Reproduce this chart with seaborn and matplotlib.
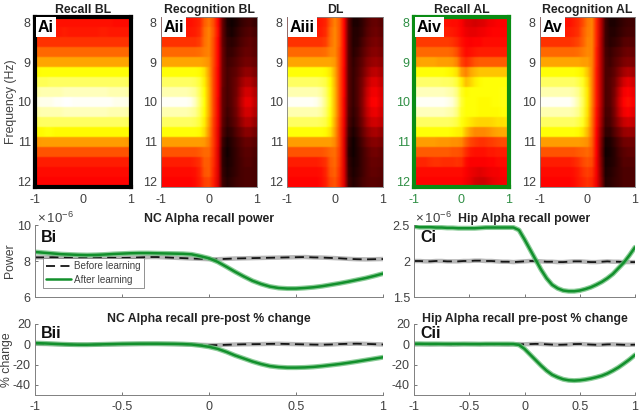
import numpy as np
from matplotlib import pyplot as plt
import seaborn as sns

sns.set_theme(style='white')
plt.rcParams['font.family'] = ['Liberation Sans', 'DejaVu Sans']
plt.rcParams['mathtext.fontset'] = 'custom'
plt.rcParams['mathtext.rm'] = 'Liberation Sans'

# heatmap values, hot scale 0-100, rows 8 to 12 Hz in 0.25 steps, 21 time columns
recall_bl = [
    [38, 38, 38, 39, 39, 39, 39, 39, 39, 39, 39, 39, 39, 39, 39, 39, 39, 38, 38, 38, 38],
    [40, 40, 40, 41, 40, 40, 41, 40, 40, 40, 40, 40, 40, 40, 41, 41, 40, 40, 40, 40, 40],
    [44, 44, 44, 44, 44, 44, 44, 44, 44, 44, 44, 44, 44, 44, 44, 44, 44, 44, 44, 44, 44],
    [52, 52, 52, 52, 52, 52, 52, 52, 52, 52, 52, 52, 52, 52, 52, 52, 52, 52, 52, 52, 52],
    [61, 61, 61, 61, 61, 61, 61, 61, 61, 61, 61, 61, 61, 61, 61, 61, 61, 61, 61, 61, 61],
    [74, 75, 75, 75, 75, 75, 75, 75, 75, 75, 75, 75, 75, 75, 75, 75, 75, 75, 75, 75, 75],
    [83, 83, 83, 84, 84, 84, 84, 84, 84, 84, 84, 84, 84, 84, 84, 84, 84, 84, 84, 84, 83],
    [91, 92, 92, 92, 92, 92, 93, 93, 93, 93, 93, 93, 93, 93, 93, 93, 92, 92, 92, 92, 91],
    [97, 98, 98, 98, 99, 99, 100, 100, 99, 99, 99, 99, 99, 99, 99, 99, 99, 98, 98, 98, 97],
    [91, 92, 92, 92, 92, 92, 93, 93, 93, 93, 93, 93, 93, 93, 93, 93, 92, 92, 92, 92, 91],
    [83, 84, 84, 84, 84, 84, 84, 84, 84, 84, 84, 84, 84, 84, 84, 84, 84, 84, 84, 84, 83],
    [74, 74, 75, 75, 74, 74, 74, 74, 74, 74, 74, 74, 74, 74, 74, 74, 74, 74, 74, 74, 74],
    [59, 60, 60, 60, 60, 60, 60, 60, 60, 60, 60, 60, 60, 60, 60, 60, 60, 60, 60, 60, 59],
    [49, 49, 49, 49, 49, 49, 49, 49, 49, 49, 49, 49, 49, 49, 49, 49, 49, 49, 49, 49, 49],
    [41, 41, 41, 41, 41, 41, 41, 41, 41, 41, 41, 41, 41, 41, 41, 41, 41, 41, 41, 41, 41],
    [38, 38, 38, 38, 38, 38, 38, 38, 38, 38, 38, 38, 38, 38, 38, 38, 38, 38, 38, 38, 38],
    [37, 37, 37, 37, 37, 37, 37, 37, 37, 37, 37, 37, 37, 37, 37, 37, 37, 37, 37, 37, 37],
]
recognition_bl = [
    [38, 38, 38, 38, 38, 39, 39, 40, 42, 50, 54, 48, 37, 14, 3, 1, 3, 6, 8, 9, 7],
    [40, 40, 40, 40, 40, 40, 40, 41, 43, 52, 56, 49, 38, 14, 4, 2, 5, 8, 10, 11, 9],
    [44, 44, 44, 44, 44, 44, 44, 44, 46, 53, 56, 48, 37, 14, 6, 5, 7, 10, 12, 13, 11],
    [52, 52, 52, 52, 52, 52, 52, 52, 53, 55, 56, 48, 37, 15, 7, 7, 9, 12, 14, 14, 12],
    [61, 61, 61, 61, 61, 61, 61, 61, 61, 60, 58, 48, 37, 15, 8, 9, 11, 14, 16, 16, 14],
    [75, 75, 75, 75, 75, 75, 75, 75, 74, 70, 60, 47, 36, 15, 9, 11, 13, 17, 20, 20, 17],
    [84, 84, 84, 84, 84, 84, 84, 83, 80, 72, 61, 47, 36, 15, 9, 12, 15, 21, 25, 25, 21],
    [92, 92, 92, 92, 92, 92, 91, 89, 83, 74, 62, 47, 36, 14, 9, 12, 16, 24, 30, 30, 25],
    [99, 99, 99, 99, 99, 99, 98, 93, 85, 75, 62, 47, 35, 14, 9, 12, 17, 26, 33, 33, 27],
    [92, 92, 92, 92, 92, 92, 91, 89, 83, 74, 62, 47, 35, 14, 8, 11, 16, 24, 30, 30, 25],
    [84, 84, 84, 84, 84, 84, 84, 83, 80, 72, 60, 46, 34, 13, 7, 10, 14, 20, 25, 25, 21],
    [75, 75, 75, 75, 75, 75, 75, 75, 74, 69, 58, 45, 33, 11, 5, 7, 11, 15, 19, 19, 16],
    [60, 60, 60, 60, 60, 60, 60, 60, 60, 59, 55, 45, 33, 8, 2, 5, 8, 11, 14, 14, 12],
    [49, 49, 49, 49, 49, 49, 49, 49, 50, 52, 52, 44, 32, 6, 1, 4, 7, 10, 12, 12, 10],
    [41, 41, 41, 41, 41, 41, 41, 42, 44, 50, 50, 43, 32, 6, 2, 4, 7, 9, 11, 11, 9],
    [38, 38, 38, 38, 38, 38, 38, 39, 42, 49, 50, 42, 32, 7, 3, 5, 7, 9, 10, 10, 9],
    [37, 37, 37, 37, 37, 37, 37, 38, 41, 46, 47, 41, 31, 8, 4, 6, 8, 9, 10, 10, 9],
]
dl = [
    [38, 38, 38, 38, 38, 39, 39, 40, 42, 50, 56, 50, 37, 12, 3, 3, 6, 10, 13, 14, 12],
    [40, 40, 40, 40, 40, 40, 40, 41, 43, 52, 57, 50, 37, 12, 4, 4, 7, 11, 14, 15, 13],
    [44, 44, 44, 44, 44, 44, 44, 44, 46, 53, 57, 50, 37, 12, 4, 5, 9, 13, 16, 17, 15],
    [52, 52, 52, 52, 52, 52, 52, 52, 53, 56, 57, 49, 37, 12, 5, 7, 11, 15, 18, 19, 17],
    [61, 61, 61, 61, 61, 61, 61, 61, 61, 61, 59, 49, 37, 12, 6, 9, 13, 18, 21, 22, 20],
    [75, 75, 75, 75, 75, 75, 75, 75, 74, 71, 62, 49, 36, 12, 7, 10, 15, 21, 26, 27, 24],
    [84, 84, 84, 84, 84, 84, 84, 83, 81, 74, 63, 49, 36, 12, 7, 11, 17, 25, 31, 32, 28],
    [92, 92, 92, 92, 92, 92, 92, 90, 85, 76, 64, 49, 36, 12, 7, 11, 18, 28, 34, 35, 31],
    [99, 99, 99, 99, 99, 99, 98, 94, 87, 77, 64, 49, 35, 12, 7, 11, 19, 29, 36, 37, 32],
    [92, 92, 92, 92, 92, 92, 92, 90, 85, 76, 64, 49, 35, 11, 6, 10, 18, 27, 33, 34, 30],
    [84, 84, 84, 84, 84, 84, 84, 83, 81, 74, 62, 48, 34, 10, 5, 9, 16, 24, 29, 30, 27],
    [75, 75, 75, 75, 75, 75, 75, 75, 74, 70, 60, 47, 33, 8, 3, 7, 13, 19, 23, 24, 21],
    [60, 60, 60, 60, 60, 60, 60, 60, 60, 60, 57, 47, 32, 6, 1, 5, 10, 15, 18, 19, 17],
    [49, 49, 49, 49, 49, 49, 49, 49, 50, 52, 53, 46, 32, 5, 1, 4, 8, 12, 15, 16, 14],
    [41, 41, 41, 41, 41, 41, 41, 42, 44, 50, 52, 45, 32, 6, 2, 4, 8, 11, 14, 14, 13],
    [38, 38, 38, 38, 38, 38, 38, 39, 42, 49, 51, 44, 32, 7, 3, 5, 8, 11, 13, 13, 12],
    [37, 37, 37, 37, 37, 37, 37, 38, 41, 47, 49, 43, 32, 8, 4, 6, 9, 11, 12, 12, 11],
]
recall_al = [
    [38, 38, 38, 39, 40, 40, 39, 39, 38, 38, 36, 32, 31, 30, 31, 32, 34, 35, 36, 36, 36],
    [40, 40, 40, 41, 42, 42, 41, 41, 40, 39, 37, 34, 33, 33, 34, 35, 36, 37, 37, 37, 37],
    [45, 45, 45, 45, 45, 45, 45, 45, 44, 42, 39, 37, 36, 37, 37, 38, 38, 38, 38, 38, 38],
    [52, 52, 52, 52, 52, 52, 52, 52, 51, 48, 42, 38, 39, 40, 41, 41, 41, 41, 41, 41, 41],
    [60, 61, 61, 61, 61, 60, 60, 60, 59, 56, 47, 43, 46, 49, 50, 50, 50, 50, 50, 50, 50],
    [75, 75, 75, 75, 75, 75, 75, 74, 73, 70, 60, 56, 61, 64, 66, 66, 66, 66, 66, 66, 66],
    [85, 85, 85, 85, 85, 85, 84, 84, 83, 80, 72, 65, 68, 72, 74, 75, 75, 75, 75, 75, 75],
    [93, 93, 93, 93, 93, 93, 93, 92, 91, 87, 78, 74, 75, 75, 75, 75, 75, 75, 75, 76, 76],
    [99, 99, 99, 99, 99, 99, 99, 98, 96, 90, 80, 75, 75, 75, 74, 74, 74, 75, 75, 76, 76],
    [93, 93, 93, 93, 93, 93, 93, 92, 91, 87, 78, 75, 75, 75, 74, 74, 74, 74, 74, 75, 75],
    [84, 84, 84, 84, 84, 84, 84, 84, 83, 81, 76, 73, 71, 69, 68, 68, 68, 69, 70, 70, 71],
    [75, 75, 75, 75, 75, 75, 75, 75, 74, 73, 72, 65, 60, 57, 57, 57, 58, 60, 61, 62, 62],
    [60, 60, 60, 60, 60, 59, 59, 59, 58, 58, 57, 51, 47, 45, 44, 44, 45, 46, 47, 48, 48],
    [50, 50, 50, 50, 50, 50, 50, 50, 49, 49, 48, 43, 40, 39, 39, 39, 40, 40, 41, 41, 41],
    [42, 42, 42, 43, 44, 44, 43, 43, 43, 44, 43, 38, 36, 36, 36, 36, 37, 37, 38, 38, 38],
    [38, 38, 38, 38, 38, 38, 38, 38, 38, 38, 38, 36, 34, 33, 32, 33, 34, 35, 35, 36, 36],
    [37, 37, 37, 37, 37, 37, 37, 37, 37, 37, 37, 35, 33, 30, 29, 29, 31, 33, 34, 35, 35],
]
recognition_al = [
    [38, 38, 38, 38, 38, 39, 39, 41, 43, 48, 54, 56, 42, 26, 8, 3, 3, 5, 7, 8, 8],
    [40, 40, 40, 40, 40, 40, 41, 42, 44, 50, 55, 56, 42, 26, 8, 4, 4, 6, 8, 9, 9],
    [44, 44, 44, 44, 44, 44, 44, 45, 47, 51, 56, 56, 42, 25, 8, 5, 6, 8, 11, 12, 11],
    [52, 52, 52, 52, 52, 52, 52, 52, 53, 55, 57, 56, 41, 25, 9, 7, 9, 11, 14, 15, 14],
    [61, 61, 61, 61, 61, 61, 61, 61, 61, 60, 60, 56, 41, 25, 10, 8, 11, 14, 17, 18, 17],
    [75, 75, 75, 75, 75, 75, 75, 75, 74, 72, 66, 56, 40, 25, 10, 10, 13, 18, 23, 25, 23],
    [84, 84, 84, 84, 84, 84, 84, 84, 82, 78, 69, 56, 40, 25, 10, 11, 15, 23, 30, 33, 30],
    [92, 92, 92, 92, 92, 92, 92, 91, 88, 81, 71, 56, 40, 25, 10, 11, 17, 27, 35, 37, 34],
    [99, 99, 99, 99, 99, 99, 99, 96, 91, 83, 71, 56, 40, 25, 10, 11, 18, 29, 37, 39, 36],
    [92, 92, 92, 92, 92, 92, 92, 91, 88, 81, 70, 55, 39, 24, 9, 10, 17, 27, 34, 36, 33],
    [84, 84, 84, 84, 84, 84, 84, 84, 82, 78, 68, 54, 38, 23, 8, 9, 15, 22, 28, 30, 28],
    [75, 75, 75, 75, 75, 75, 75, 75, 74, 71, 64, 53, 37, 20, 6, 6, 11, 16, 21, 22, 21],
    [60, 60, 60, 60, 60, 60, 60, 60, 60, 59, 58, 51, 36, 18, 2, 3, 7, 11, 15, 16, 15],
    [49, 49, 49, 49, 49, 49, 49, 49, 50, 51, 52, 49, 36, 17, 1, 2, 5, 9, 12, 13, 13],
    [41, 41, 41, 41, 41, 41, 41, 42, 44, 47, 49, 47, 35, 18, 2, 3, 5, 8, 11, 11, 11],
    [38, 38, 38, 38, 38, 38, 38, 39, 41, 44, 46, 44, 35, 19, 3, 4, 6, 8, 10, 10, 10],
    [37, 37, 37, 37, 37, 37, 37, 38, 40, 42, 44, 42, 34, 20, 4, 5, 7, 8, 10, 10, 10],
]

heat_titles = ['Recall BL', 'Recognition BL', 'DL', 'Recall AL', 'Recognition AL']
heat_tags = ['Ai', 'Aii', 'Aiii', 'Aiv', 'Av']
heat_data = [recall_bl, recognition_bl, dl, recall_al, recognition_al]
freq_labels = ['8', '9', '10', '11', '12']
time_labels = ['-1', '0', '1']

# line values
t = np.arange(-1, 1.001, 0.05)
nc_power_before = [8.2, 8.2, 8.21, 8.2, 8.18, 8.17, 8.18, 8.2, 8.2, 8.18, 8.17, 8.18, 8.2, 8.22, 8.22, 8.2, 8.18, 8.16, 8.14, 8.12, 8.1,
                   8.1, 8.12, 8.14, 8.15, 8.16, 8.17, 8.18, 8.19, 8.2, 8.21, 8.22, 8.2, 8.19, 8.17, 8.15, 8.12, 8.1, 8.09, 8.1, 8.11]
nc_power_after = [8.5, 8.46, 8.42, 8.38, 8.36, 8.34, 8.33, 8.34, 8.36, 8.39, 8.41, 8.43, 8.44, 8.44, 8.43, 8.42, 8.41, 8.4, 8.37, 8.27, 8.15,
                  7.95, 7.68, 7.4, 7.14, 6.9, 6.72, 6.58, 6.5, 6.47, 6.47, 6.5, 6.54, 6.6, 6.68, 6.76, 6.85, 6.95, 7.05, 7.17, 7.3]
nc_change_before = [0.5, 0.3, 0.2, 0, -0.3, -0.4, -0.5, -0.3, -0.1, 0, 0.1, 0.2, 0.3, 0.4, 0.4, 0.3, 0.2, 0, -0.2, -0.5, -0.8,
                    -0.8, -0.5, -0.2, 0, 0.1, 0.2, 0.4, 0.5, 0.3, 0.1, -0.1, -0.3, -0.4, -0.2, 0.2, 0.5, 0.6, 0.4, 0.1, -0.2]
nc_change_after = [1.2, 0.9, 0.5, 0.1, -0.2, -0.4, -0.4, -0.2, 0, 0.2, 0.4, 0.5, 0.6, 0.6, 0.6, 0.5, 0.4, 0.2, -0.2, -1.2, -2.5,
                   -4.5, -7.5, -11, -14, -17, -19.5, -21.5, -22.5, -23, -23, -22.8, -22.3, -21.5, -20.5, -19.5, -18.3, -17, -15.6, -14.2, -12.8]
hip_power_before = [2.0, 2.0, 1.995, 1.995, 2.0, 2.0, 1.995, 1.995, 1.995, 2.0, 2.0, 2.005, 2.005, 2.0, 2.0, 1.995, 1.99, 1.99, 1.985, 1.99, 1.995,
                    2.0, 2.0, 1.995, 1.99, 1.99, 1.985, 1.985, 1.99, 1.995, 1.995, 1.99, 1.985, 1.985, 1.99, 1.995, 1.99, 1.99, 1.985, 1.985, 1.985]
hip_power_after = [2.48, 2.47, 2.47, 2.47, 2.465, 2.465, 2.46, 2.46, 2.455, 2.455, 2.455, 2.455, 2.46, 2.465, 2.465, 2.465, 2.465, 2.465, 2.465, 2.43, 2.3,
                   2.16, 2.02, 1.88, 1.76, 1.67, 1.62, 1.59, 1.58, 1.58, 1.59, 1.61, 1.635, 1.67, 1.71, 1.76, 1.82, 1.9, 1.98, 2.08, 2.19]
hip_change_before = [0, 0.1, 0, -0.1, 0, 0.2, 0, -0.2, 0, 0.2, 0.3, 0.2, 0, 0, 0.1, 0, -0.1, -0.2, 0, 0.2, 0,
                     0.2, 0.4, 0.3, 0, -0.3, -0.5, -0.4, -0.2, 0.2, 0.3, 0, -0.3, -0.5, -0.4, -0.1, 0, -0.3, -0.5, -0.5, -0.4]
hip_change_after = [0.5, 0.5, 0.4, 0.4, 0.4, 0.3, 0.3, 0.3, 0.3, 0.3, 0.2, 0.2, 0.2, 0.3, 0.3, 0.3, 0.3, 0.3, 0.2, -0.6, -4.5,
                    -10, -15.5, -21, -26, -30, -32.5, -34.5, -35.5, -35.8, -35.5, -34.8, -33.8, -32.5, -31, -28.8, -26, -22.8, -19, -15, -10.5]

gray_text = '#404040'
axis_gray = '#808080'
green = '#12902c'


def box(x0, y0, x1, y1):
    # pixel box, y from top of the picture
    return [x0 / 640, 1 - y1 / 412, (x1 - x0) / 640, (y1 - y0) / 412]


fig = plt.figure(figsize=(6.4, 4.12), dpi=100)

heat_x = [(35, 131), (161, 257), (287, 383), (414, 509), (540, 635)]
for i in range(5):
    ax = fig.add_axes(box(heat_x[i][0], 17, heat_x[i][1], 187))
    vals = np.array(heat_data[i])
    sns.heatmap(vals, ax=ax, cmap='hot', vmin=0, vmax=100, cbar=False,
                xticklabels=False, yticklabels=False)
    # same cells again but smooth along time, rows stay as bands
    ax.collections[0].set_visible(False)
    ax.imshow(np.repeat(vals, 6, axis=0), cmap='hot', vmin=0, vmax=100, aspect='auto',
              interpolation='bilinear', extent=(0, 21, 17, 0))
    ax.set_xlim(0, 21)
    ax.set_ylim(17, 0)
    ax.set_xticks([0, 10.5, 21])
    ax.set_xticklabels(time_labels, rotation=0)
    ax.set_yticks([0.5, 4.5, 8.5, 12.5, 16.5])
    ax.set_yticklabels(freq_labels, rotation=0)
    tick_color = '#2f8f45' if i == 3 else gray_text
    ax.tick_params(axis='x', labelsize=9, colors=tick_color, length=0, pad=5)
    ax.tick_params(axis='y', labelsize=9, colors=tick_color, length=0, pad=3)
    for s in ax.spines.values():
        s.set_visible(True)
        s.set_color(axis_gray)
        s.set_linewidth(0.6)
    if i == 0 or i == 3:
        for s in ax.spines.values():
            s.set_color('black' if i == 0 else '#0a8c14')
            s.set_linewidth(3)
    ax.set_title(heat_titles[i], fontsize=8.8, fontweight='bold', color='#222222', pad=3)
    ax.text(0.03, 0.985, heat_tags[i], transform=ax.transAxes, fontsize=11.5, fontweight='bold',
            va='top', ha='left', color='black',
            bbox=dict(facecolor='white', edgecolor='none', pad=1.5), zorder=5)
    if i == 0:
        ax.set_ylabel('Frequency (Hz)', fontsize=8.8, color=gray_text)
        ax.yaxis.set_label_coords(-0.19, 0.5)


def line_panel(pos, before, after, ylim, yticks, ylabels, title, tag, xlabels, tag_y, ylabel=None):
    ax = fig.add_axes(box(*pos))
    sns.lineplot(x=t, y=before, ax=ax, color='#b0b0b0', linewidth=3.2, alpha=0.9)
    sns.lineplot(x=t, y=before, ax=ax, color='#151515', linewidth=1.3, label='Before learning',
                 linestyle=(0, (5, 3)))
    sns.lineplot(x=t, y=after, ax=ax, color='#6fc07f', linewidth=3.6, alpha=0.8)
    sns.lineplot(x=t, y=after, ax=ax, color=green, linewidth=1.8, label='After learning')
    ax.set_xlim(-1, 1)
    ax.set_ylim(*ylim)
    ax.set_yticks(yticks)
    ax.set_yticklabels(ylabels)
    ax.set_xticks([-1, -0.5, 0, 0.5, 1])
    ax.set_xticklabels(xlabels)
    ax.tick_params(axis='both', labelsize=9, colors=gray_text, direction='in', length=2.5, width=0.5,
                   bottom=True, left=True, pad=3)
    ax.tick_params(axis='x', pad=4)
    for s in ['top', 'right']:
        ax.spines[s].set_visible(False)
    for s in ['left', 'bottom']:
        ax.spines[s].set_color(axis_gray)
        ax.spines[s].set_linewidth(0.7)
    ax.patch.set_alpha(0)
    ax.set_title(title, fontsize=8.8, fontweight='bold', color='#222222', pad=1.5)
    ax.text(6 / (pos[2] - pos[0]), tag_y, tag, transform=ax.transAxes, fontsize=11.5, fontweight='bold',
            va='top', ha='left', color='#111111')
    if ylabel:
        ax.set_ylabel(ylabel, fontsize=8.8, color=gray_text)
    ax.get_legend().remove()
    return ax


no_labels = ['', '', '', '', '']
time_ticks = ['-1', '-0.5', '0', '0.5', '1']

bi = line_panel((35, 225, 383, 297), nc_power_before, nc_power_after, (6, 10), [6, 8, 10], ['6', '8', '10'],
                'NC Alpha recall power', 'Bi', no_labels, 0.93, 'Power')
bi.yaxis.set_label_coords(-0.055, 0.5)
handles, labels = bi.get_legend_handles_labels()
leg = bi.legend(handles, labels, loc='lower left', bbox_to_anchor=(0.023, 0.125), fontsize=7.1, frameon=True,
                fancybox=False, framealpha=1, edgecolor=axis_gray, borderpad=0.35, labelspacing=0.35,
                handlelength=2.5, handletextpad=0.3, borderaxespad=0)
leg.get_frame().set_linewidth(0.6)
for txt in leg.get_texts():
    txt.set_color(gray_text)
bi.text(0.006, 0.99, r'$\times\,10^{-6}$', transform=bi.transAxes, fontsize=9.5, color=gray_text,
        va='bottom', ha='left')

bii = line_panel((35, 324, 383, 395), nc_change_before, nc_change_after, (-50, 20), [-40, -20, 0, 20],
                 ['-40', '-20', '0', '20'], 'NC Alpha recall pre-post % change', 'Bii', time_ticks, 0.97, '% change')
bii.yaxis.set_label_coords(-0.064, 0.5)

ci = line_panel((414, 225, 635, 297), hip_power_before, hip_power_after, (1.5, 2.5), [1.5, 2, 2.5],
                ['1.5', '2', '2.5'], 'Hip Alpha recall power', 'Ci', no_labels, 0.93)
ci.text(0.006, 0.99, r'$\times\,10^{-6}$', transform=ci.transAxes, fontsize=9.5, color=gray_text,
        va='bottom', ha='left')

cii = line_panel((414, 324, 635, 395), hip_change_before, hip_change_after, (-50, 20), [-40, -20, 0, 20],
                 ['-40', '-20', '0', '20'], 'Hip Alpha recall pre-post % change', 'Cii', time_ticks, 0.97)

fig.savefig('out.png', dpi=100)
